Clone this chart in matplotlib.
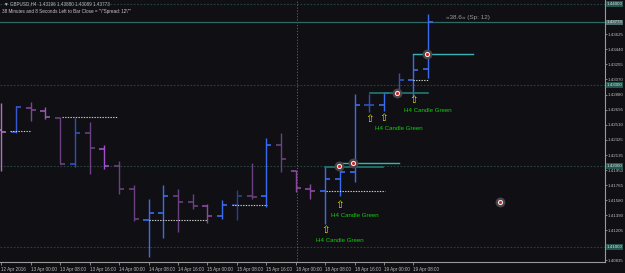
import matplotlib
matplotlib.use("Agg")
import matplotlib.pyplot as plt
import numpy as np

# ---- data (H4 OHLC, GBPUSD) ----
opens  = [1.42440, 1.42416, 1.42712, 1.42679, 1.42596, 1.42028, 1.42404, 1.42210, 1.42000, 1.41712,
          1.41333, 1.41423, 1.41633, 1.41552, 1.41502, 1.41386, 1.41515, 1.41626, 1.41626, 1.42259,
          1.41942, 1.41720, 1.41691, 1.41836, 1.41922, 1.42749, 1.42749, 1.42901, 1.43062, 1.43196]
highs  = [1.42781, 1.42744, 1.42786, 1.42725, 1.42601, 1.42589, 1.42540, 1.42259, 1.42062, 1.41765,
          1.41593, 1.41765, 1.41716, 1.41654, 1.41531, 1.41580, 1.41704, 1.42033, 1.42346, 1.42404,
          1.41951, 1.41774, 1.41988, 1.41988, 1.42889, 1.42889, 1.42910, 1.43144, 1.43383, 1.43880]
lows   = [1.41942, 1.42410, 1.42559, 1.42580, 1.42021, 1.41984, 1.41905, 1.41967, 1.41651, 1.41317,
          1.40873, 1.41115, 1.41189, 1.41465, 1.41300, 1.41349, 1.41337, 1.41589, 1.41490, 1.41922,
          1.41683, 1.41596, 1.41284, 1.41630, 1.41806, 1.42670, 1.42683, 1.42898, 1.42856, 1.43089]
closes = [1.42420, 1.42725, 1.42688, 1.42601, 1.42028, 1.42404, 1.42219, 1.42004, 1.41716, 1.41342,
          1.41416, 1.41633, 1.41552, 1.41510, 1.41386, 1.41515, 1.41626, 1.41623, 1.42259, 1.42086,
          1.41725, 1.41691, 1.41836, 1.41922, 1.42749, 1.42753, 1.42905, 1.43062, 1.43181, 1.43773]

time_labels = ["12 Apr 2016", "13 Apr 00:00", "13 Apr 08:00", "13 Apr 16:00", "14 Apr 00:00",
               "14 Apr 08:00", "14 Apr 16:00", "15 Apr 00:00", "15 Apr 08:00", "15 Apr 16:00",
               "18 Apr 00:00", "18 Apr 08:00", "18 Apr 16:00", "19 Apr 00:00", "19 Apr 08:00"]
time_label_bars = [0, 2, 4, 6, 8, 10, 12, 14, 16, 18, 20, 22, 24, 26, 28]

price_ticks = [1.43625, 1.43440, 1.43255, 1.43070, 1.42880, 1.42695, 1.42510, 1.42325, 1.42135,
               1.41950, 1.41765, 1.41580, 1.41390, 1.41205, 1.40835]
round_levels = [1.44000, 1.43000, 1.42000, 1.41000]
bid_price = 1.43773

# indicator overlays
dotted_levels = [(1.42432, 0.6, 2.0), (1.42601, 4.1, 7.9), (1.41330, 10.0, 14.0),
                 (1.41515, 15.7, 18.05), (1.41691, 22.05, 26.05), (1.43058, 28.0, 29.0)]
teal_levels = [(1.41984, 22.0, 25.95), (1.42905, 25.05, 29.0)]
cyan_levels = [(1.42033, 23.0, 27.0), (1.43383, 28.0, 32.05)]
marker_x = [22.96, 23.91, 26.9, 28.9, 33.88]
marker_y = [1.42000, 1.42033, 1.42898, 1.43383, 1.41556]
arrow_x = [22, 23, 25, 26, 28]
arrow_y = [1.41210, 1.41515, 1.42580, 1.42589, 1.42815]
signal_x = [23.0, 24.03, 27.0, 29.0]
signal_y = [1.41078, 1.41391, 1.42460, 1.42683]
signal_text = "H4 Candle Green"

bar_colors = ['#b070c0', '#3858d0', '#7a4890', '#9a58b0', '#6a4080', '#3050c0', '#6a4080', '#a050c8',
              '#6a4080', '#6a4080', '#3a6cf0', '#3a6cf0', '#6a4080', '#6a4080', '#8a4aa0', '#3a6cf0',
              '#2c3e90', '#6a4080', '#3a6cf0', '#6a4080', '#8a4aa0', '#8a4aa0', '#3a6cf0', '#3a6cf0',
              '#3a6cf0', '#3050c0', '#3a6cf0', '#3050c0', '#3a6cf0', '#3a6cf0']

BG = '#101014'
FONT = 'Liberation Sans'
fig = plt.figure(figsize=(6.25, 2.73), dpi=100)
fig.patch.set_facecolor(BG)
ax = fig.add_axes([0, 11 / 273, 605 / 625, 262 / 273])
ax.set_facecolor(BG)
ax.set_xlim(-0.088, 41.01)
ax.set_ylim(1.408148, 1.440494)

# levels
for lv in round_levels:
    ax.axhline(lv, color='#26433f', lw=0.8, ls=(0, (1.5, 1.5)), zorder=1)
ax.axvline(20.07, color='#6a6a6a', lw=0.6, ls=(0, (1.5, 2)), zorder=1)
ax.axhline(bid_price, color='#2e6a66', lw=0.9, zorder=1)

# OHLC bars
tk = 0.34
for i in range(len(opens)):
    c = bar_colors[i]
    ax.plot([i, i], [lows[i], highs[i]], color=c, lw=1.0, solid_capstyle='butt', zorder=3)
    ax.plot([i - tk, i], [opens[i], opens[i]], color=c, lw=1.2, solid_capstyle='butt', zorder=3)
    ax.plot([i, i + tk], [closes[i], closes[i]], color=c, lw=1.2, solid_capstyle='butt', zorder=3)

for y, x0, x1 in dotted_levels:
    ax.plot([x0, x1], [y, y], color='#d0d0d0', lw=0.8, ls=(0, (1.2, 1.2)), zorder=4)
for y, x0, x1 in teal_levels:
    ax.plot([x0, x1], [y, y], color='#1f7a72', lw=1.2, zorder=4)
for y, x0, x1 in cyan_levels:
    ax.plot([x0, x1], [y, y], color='#38b4b8', lw=1.0, zorder=4)

ax.scatter(marker_x, marker_y, s=50, color='#4a4448', zorder=5, linewidths=0)
ax.scatter(marker_x, marker_y, s=14, color='#f0f0f0', zorder=6, linewidths=0)
ax.scatter(marker_x, marker_y, s=5, color='#e02020', zorder=7, linewidths=0)

for x, y in zip(arrow_x, arrow_y):
    ax.text(x, y, '\u21e7', color='#e8e800', fontsize=7.5, ha='center', va='center',
            family='DejaVu Sans', zorder=6)
for x, y in zip(signal_x, signal_y):
    ax.text(x, y, signal_text, color='#10d010', fontsize=4.4, ha='center', va='center',
            family=FONT, zorder=6)

ax.text(31.7, 1.43837, '\u00ab38.6\u00bb (Sp: 12)', color='#9a9a9a',
        fontsize=4.6, ha='center', va='center', family=FONT)

# header texts
ax.text(0.006, 0.985, '\u25bc GBPUSD,H4  1.43196 1.43880 1.43089 1.43773', transform=ax.transAxes,
        color='#b8b8b8', fontsize=3.3, ha='left', va='center', family=['Liberation Sans', 'DejaVu Sans'])
ax.text(0.003, 0.958, '38 Minutes and 8 Seconds Left to Bar Close = "\\"Spread: 12\\""',
        transform=ax.transAxes, color='#c8c8c8', fontsize=3.3, ha='left', va='center',
        family=FONT)

# spines
for s in ['top', 'left']:
    ax.spines[s].set_visible(False)
for s in ['right', 'bottom']:
    ax.spines[s].set_color('#9a9a9a')
    ax.spines[s].set_linewidth(0.8)

# price axis
ax.yaxis.tick_right()
ax.set_yticks(price_ticks)
ax.set_yticklabels([f'{p:.5f}' for p in price_ticks], fontsize=3.2, color='#bdbdbd', family=FONT)
ax.tick_params(axis='y', colors='#9a9a9a', length=1.5, width=0.6, pad=0.6, labelcolor='#bdbdbd')

ytr = ax.get_yaxis_transform()
for lv in round_levels + [bid_price]:
    fc = '#4f6b6a' if lv == bid_price else '#245650'
    ax.text(1.002, lv, f'{lv:.5f}', transform=ytr, fontsize=3.2, color='#e0e0e0', ha='left',
            va='center', family=FONT, clip_on=False,
            bbox=dict(boxstyle='square,pad=0.15', fc=fc, ec='none'))

# time axis
ax.set_xticks(time_label_bars)
ax.set_xticklabels(time_labels, fontsize=3.3, color='#bdbdbd', family=FONT)
ax.tick_params(axis='x', colors='#9a9a9a', length=2, width=0.6, pad=1.5, labelcolor='#bdbdbd')
for lab in ax.get_xticklabels():
    lab.set_horizontalalignment('left')

fig.savefig('out.png', dpi=100, facecolor=BG)
